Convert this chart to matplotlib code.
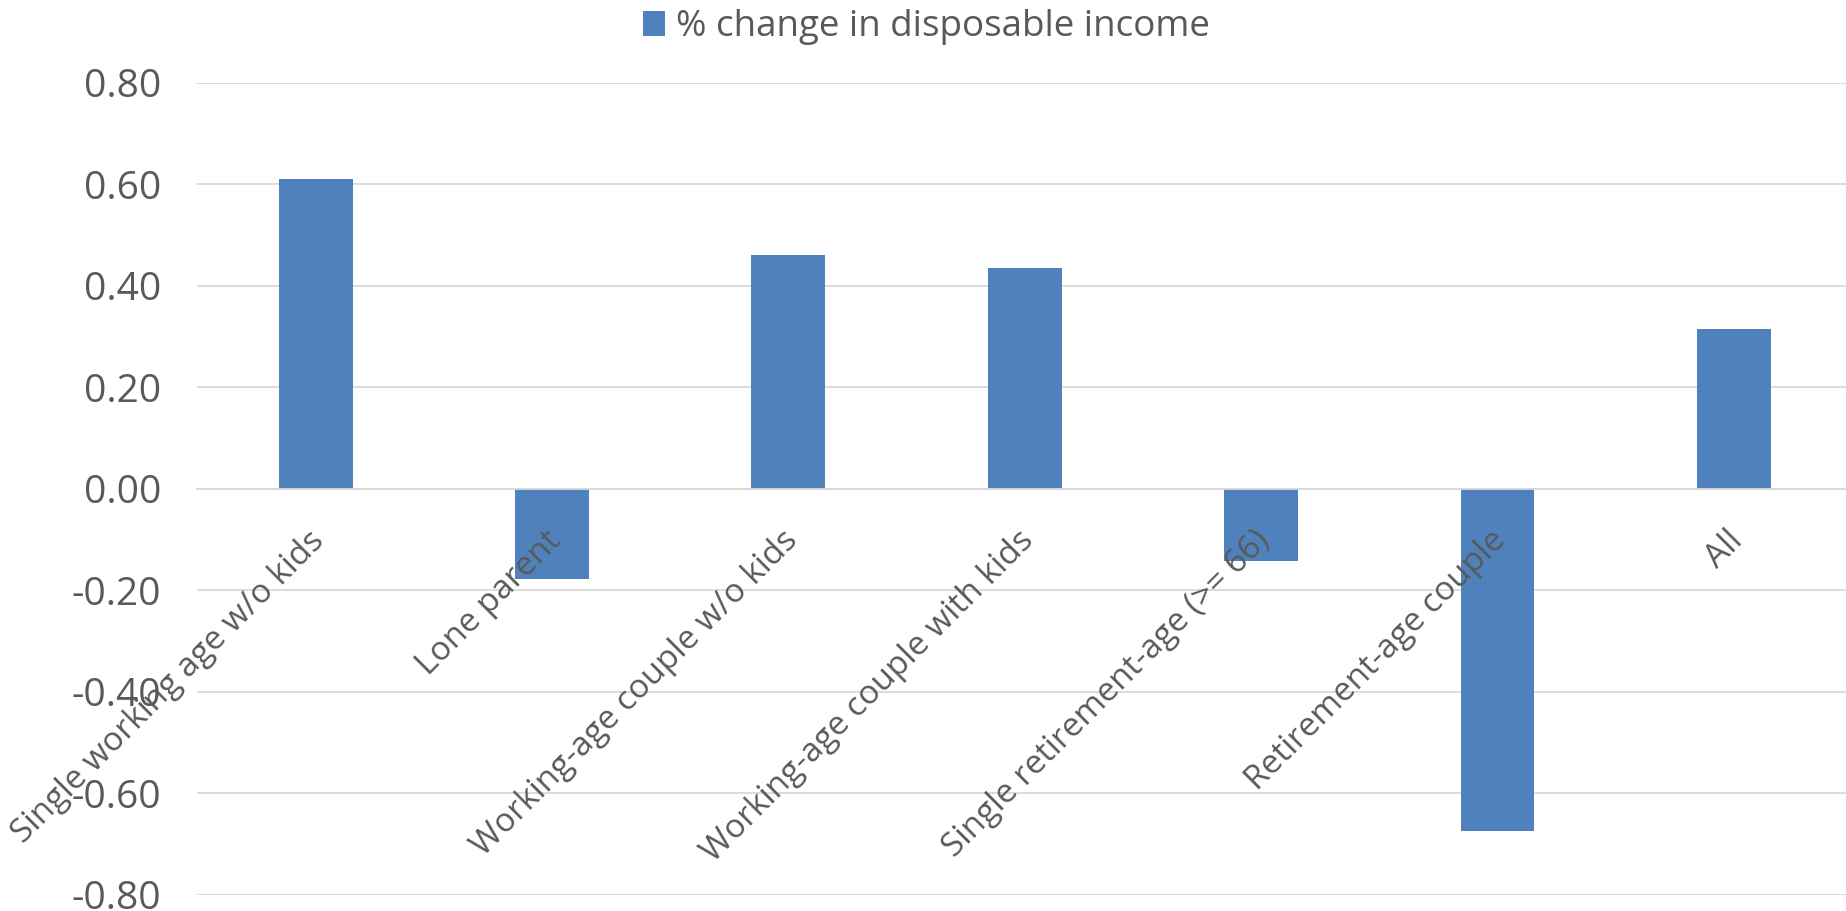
import matplotlib
matplotlib.use("Agg")
import matplotlib.pyplot as plt
from matplotlib.ticker import FormatStrFormatter
import numpy as np

categories = [
    "Single working age w/o kids",
    "Lone parent",
    "Working-age couple w/o kids",
    "Working-age couple with kids",
    "Single retirement-age (>= 66)",
    "Retirement-age couple",
    "All",
]
pct_change = [0.611, -0.177, 0.461, 0.434, -0.142, -0.674, 0.314]
series_name = "% change in disposable income"
y_ticks = [-0.8, -0.6, -0.4, -0.2, 0.0, 0.2, 0.4, 0.6, 0.8]

plt.rcParams["font.family"] = ["Open Sans", "DejaVu Sans"]
plt.rcParams["axes.unicode_minus"] = False

bleu = "#4F81BD"
gris_texte = "#595959"
gris_grille = "#D9D9D9"

fig = plt.figure(figsize=(18.46, 9.11), dpi=100)
ax = fig.add_axes([0.1069, 0.0179, 0.8964, 0.8913])
ax.set_axisbelow(True)

x = np.arange(len(categories))
barres = ax.bar(x, pct_change, width=0.313, color=bleu, label=series_name, zorder=2)

ax.set_xlim(-0.5, len(categories) - 0.5)
ax.set_ylim(-0.8, 0.8)
ax.set_yticks(y_ticks)
ax.yaxis.set_major_formatter(FormatStrFormatter("%.2f"))
ax.yaxis.grid(True, color=gris_grille, linewidth=1.3)

for nom in ["top", "right", "left"]:
    ax.spines[nom].set_visible(False)
ax.spines["bottom"].set_position(("data", 0))
ax.spines["bottom"].set_color(gris_grille)
ax.spines["bottom"].set_linewidth(1.3)

ax.tick_params(axis="y", length=0, pad=26, labelsize=28, labelcolor=gris_texte)
ax.set_xticks(x)
ax.tick_params(axis="x", length=0, labelbottom=False)

# libellés des catégories, au-dessus des barres comme dans Excel
for i, nom_cat in enumerate(categories):
    ax.annotate(
        nom_cat,
        xy=(i, 0),
        xytext=(3, -34),
        textcoords="offset points",
        rotation=45,
        rotation_mode="anchor",
        ha="right",
        va="center",
        fontsize=24,
        color=gris_texte,
        zorder=5,
    )

fig.legend(
    handles=[barres],
    labels=[series_name],
    loc="center",
    bbox_to_anchor=(0.502, 0.970),
    frameon=False,
    fontsize=26.5,
    labelcolor=gris_texte,
    handlelength=0.6,
    handleheight=0.65,
    handletextpad=0.3,
)

fig.savefig("out.png", dpi=100)
